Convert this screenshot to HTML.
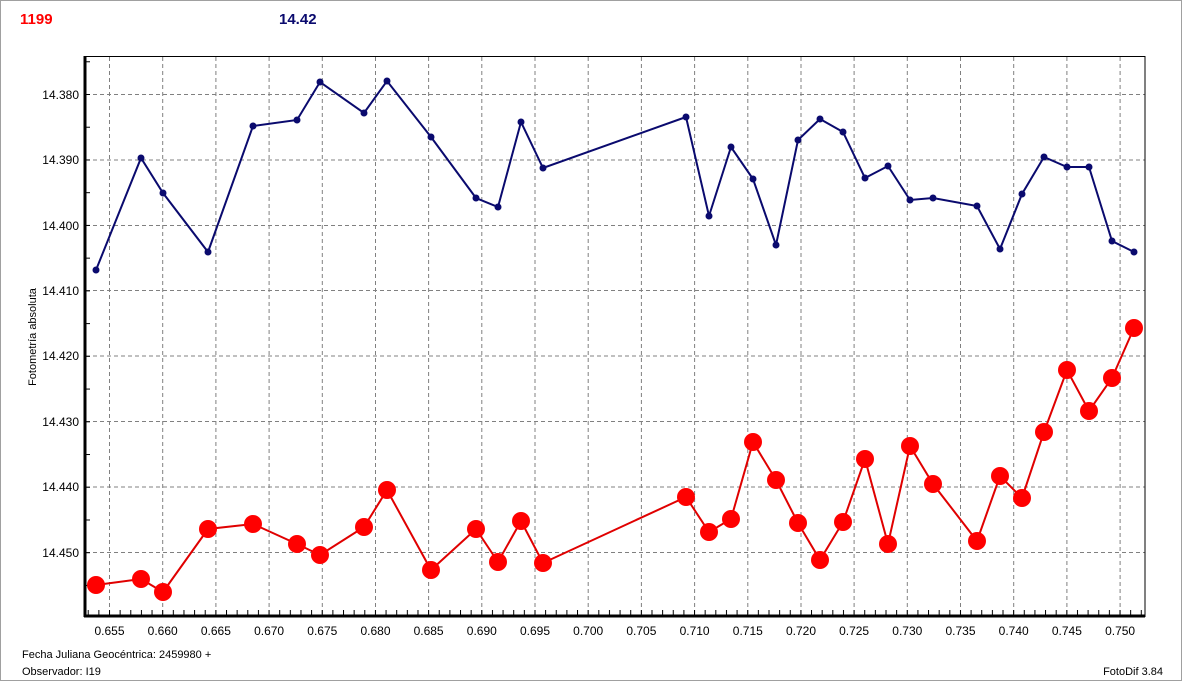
<!DOCTYPE html>
<html><head><meta charset="utf-8"><style>
html,body{margin:0;padding:0;background:#fff;}
svg{display:block;font-family:"Liberation Sans",sans-serif;}
</style></head><body>
<svg width="1184" height="683" xmlns="http://www.w3.org/2000/svg">
<defs>
<pattern id="xt" patternUnits="userSpaceOnUse" x="109" y="0" width="10.637" height="683"><rect x="0" y="0" width="1" height="683" fill="#000"/></pattern>
<pattern id="yt" patternUnits="userSpaceOnUse" x="0" y="94" width="1184" height="32.73"><rect x="0" y="0" width="1184" height="1" fill="#000"/></pattern>
</defs>
<rect x="0.5" y="0.5" width="1181" height="680" fill="#fff" stroke="#a0a0a0"/>
<text x="20" y="24" font-size="15" font-weight="bold" fill="#ff0000">1199</text>
<text x="279" y="24" font-size="15" font-weight="bold" fill="#0a0a6e">14.42</text>
<g id="grid" stroke="#808080" stroke-dasharray="4,3" stroke-width="1">
<line x1="109.5" y1="57" x2="109.5" y2="616"/><line x1="162.7" y1="57" x2="162.7" y2="616"/><line x1="215.9" y1="57" x2="215.9" y2="616"/><line x1="269.1" y1="57" x2="269.1" y2="616"/><line x1="322.3" y1="57" x2="322.3" y2="616"/><line x1="375.5" y1="57" x2="375.5" y2="616"/><line x1="428.6" y1="57" x2="428.6" y2="616"/><line x1="481.8" y1="57" x2="481.8" y2="616"/><line x1="535" y1="57" x2="535" y2="616"/><line x1="588.2" y1="57" x2="588.2" y2="616"/><line x1="641.4" y1="57" x2="641.4" y2="616"/><line x1="694.6" y1="57" x2="694.6" y2="616"/><line x1="747.8" y1="57" x2="747.8" y2="616"/><line x1="801" y1="57" x2="801" y2="616"/><line x1="854.1" y1="57" x2="854.1" y2="616"/><line x1="907.3" y1="57" x2="907.3" y2="616"/><line x1="960.5" y1="57" x2="960.5" y2="616"/><line x1="1013.7" y1="57" x2="1013.7" y2="616"/><line x1="1066.9" y1="57" x2="1066.9" y2="616"/><line x1="1120.1" y1="57" x2="1120.1" y2="616"/>
<line x1="86" y1="94.5" x2="1145" y2="94.5"/><line x1="86" y1="160" x2="1145" y2="160"/><line x1="86" y1="225.5" x2="1145" y2="225.5"/><line x1="86" y1="290.5" x2="1145" y2="290.5"/><line x1="86" y1="356" x2="1145" y2="356"/><line x1="86" y1="421.5" x2="1145" y2="421.5"/><line x1="86" y1="487" x2="1145" y2="487"/><line x1="86" y1="552.5" x2="1145" y2="552.5"/>
</g>
<rect x="86" y="610" width="1058" height="5" fill="url(#xt)"/>
<rect x="86" y="58" width="4" height="557" fill="url(#yt)"/>
<rect x="85" y="56.5" width="1060" height="560" fill="none" stroke="#000" stroke-width="1"/>
<line x1="85" y1="56" x2="85" y2="617" stroke="#000" stroke-width="3"/>
<line x1="84" y1="616" x2="1145" y2="616" stroke="#000" stroke-width="3"/>
<g font-size="12" fill="#000" text-anchor="end">
<text x="79" y="99">14.380</text><text x="79" y="164">14.390</text><text x="79" y="230">14.400</text><text x="79" y="295">14.410</text><text x="79" y="360">14.420</text><text x="79" y="426">14.430</text><text x="79" y="491">14.440</text><text x="79" y="557">14.450</text>
</g>
<g font-size="12" fill="#000" text-anchor="middle">
<text x="109.5" y="635">0.655</text><text x="162.7" y="635">0.660</text><text x="215.9" y="635">0.665</text><text x="269.1" y="635">0.670</text><text x="322.3" y="635">0.675</text><text x="375.5" y="635">0.680</text><text x="428.6" y="635">0.685</text><text x="481.8" y="635">0.690</text><text x="535" y="635">0.695</text><text x="588.2" y="635">0.700</text><text x="641.4" y="635">0.705</text><text x="694.6" y="635">0.710</text><text x="747.8" y="635">0.715</text><text x="801" y="635">0.720</text><text x="854.1" y="635">0.725</text><text x="907.3" y="635">0.730</text><text x="960.5" y="635">0.735</text><text x="1013.7" y="635">0.740</text><text x="1066.9" y="635">0.745</text><text x="1120.1" y="635">0.750</text>
</g>
<text transform="translate(36,337) rotate(-90)" font-size="11" text-anchor="middle">Fotometría absoluta</text>
<text x="22" y="658" font-size="11">Fecha Juliana Geocéntrica: 2459980 +</text>
<text x="22" y="675" font-size="11">Observador: I19</text>
<text x="1163" y="675" font-size="11" text-anchor="end">FotoDif 3.84</text>
<polyline fill="none" stroke="#0a0a6e" stroke-width="2" points="96,270 141,158 163,193 208,252 253,126 297,120 320,82 364,113 387,81 431,137 476,198 498,207 521,122 543,168 686,117 709,216 731,147 753,179 776,245 798,140 820,119 843,132 865,178 888,166 910,200 933,198 977,206 1000,249 1022,194 1044,157 1067,167 1089,167 1112,241 1134,252"/>
<g fill="#0a0a6e">
<circle cx="96" cy="270" r="3.5"/><circle cx="141" cy="158" r="3.5"/><circle cx="163" cy="193" r="3.5"/><circle cx="208" cy="252" r="3.5"/><circle cx="253" cy="126" r="3.5"/><circle cx="297" cy="120" r="3.5"/><circle cx="320" cy="82" r="3.5"/><circle cx="364" cy="113" r="3.5"/><circle cx="387" cy="81" r="3.5"/><circle cx="431" cy="137" r="3.5"/><circle cx="476" cy="198" r="3.5"/><circle cx="498" cy="207" r="3.5"/><circle cx="521" cy="122" r="3.5"/><circle cx="543" cy="168" r="3.5"/><circle cx="686" cy="117" r="3.5"/><circle cx="709" cy="216" r="3.5"/><circle cx="731" cy="147" r="3.5"/><circle cx="753" cy="179" r="3.5"/><circle cx="776" cy="245" r="3.5"/><circle cx="798" cy="140" r="3.5"/><circle cx="820" cy="119" r="3.5"/><circle cx="843" cy="132" r="3.5"/><circle cx="865" cy="178" r="3.5"/><circle cx="888" cy="166" r="3.5"/><circle cx="910" cy="200" r="3.5"/><circle cx="933" cy="198" r="3.5"/><circle cx="977" cy="206" r="3.5"/><circle cx="1000" cy="249" r="3.5"/><circle cx="1022" cy="194" r="3.5"/><circle cx="1044" cy="157" r="3.5"/><circle cx="1067" cy="167" r="3.5"/><circle cx="1089" cy="167" r="3.5"/><circle cx="1112" cy="241" r="3.5"/><circle cx="1134" cy="252" r="3.5"/>
</g>
<polyline fill="none" stroke="#e00000" stroke-width="2" points="96,585 141,579 163,592 208,529 253,524 297,544 320,555 364,527 387,490 431,570 476,529 498,562 521,521 543,563 686,497 709,532 731,519 753,442 776,480 798,523 820,560 843,522 865,459 888,544 910,446 933,484 977,541 1000,476 1022,498 1044,432 1067,370 1089,411 1112,378 1134,328"/>
<g fill="#ff0000">
<circle cx="96" cy="585" r="9"/><circle cx="141" cy="579" r="9"/><circle cx="163" cy="592" r="9"/><circle cx="208" cy="529" r="9"/><circle cx="253" cy="524" r="9"/><circle cx="297" cy="544" r="9"/><circle cx="320" cy="555" r="9"/><circle cx="364" cy="527" r="9"/><circle cx="387" cy="490" r="9"/><circle cx="431" cy="570" r="9"/><circle cx="476" cy="529" r="9"/><circle cx="498" cy="562" r="9"/><circle cx="521" cy="521" r="9"/><circle cx="543" cy="563" r="9"/><circle cx="686" cy="497" r="9"/><circle cx="709" cy="532" r="9"/><circle cx="731" cy="519" r="9"/><circle cx="753" cy="442" r="9"/><circle cx="776" cy="480" r="9"/><circle cx="798" cy="523" r="9"/><circle cx="820" cy="560" r="9"/><circle cx="843" cy="522" r="9"/><circle cx="865" cy="459" r="9"/><circle cx="888" cy="544" r="9"/><circle cx="910" cy="446" r="9"/><circle cx="933" cy="484" r="9"/><circle cx="977" cy="541" r="9"/><circle cx="1000" cy="476" r="9"/><circle cx="1022" cy="498" r="9"/><circle cx="1044" cy="432" r="9"/><circle cx="1067" cy="370" r="9"/><circle cx="1089" cy="411" r="9"/><circle cx="1112" cy="378" r="9"/><circle cx="1134" cy="328" r="9"/>
</g>
</svg>
</body></html>
